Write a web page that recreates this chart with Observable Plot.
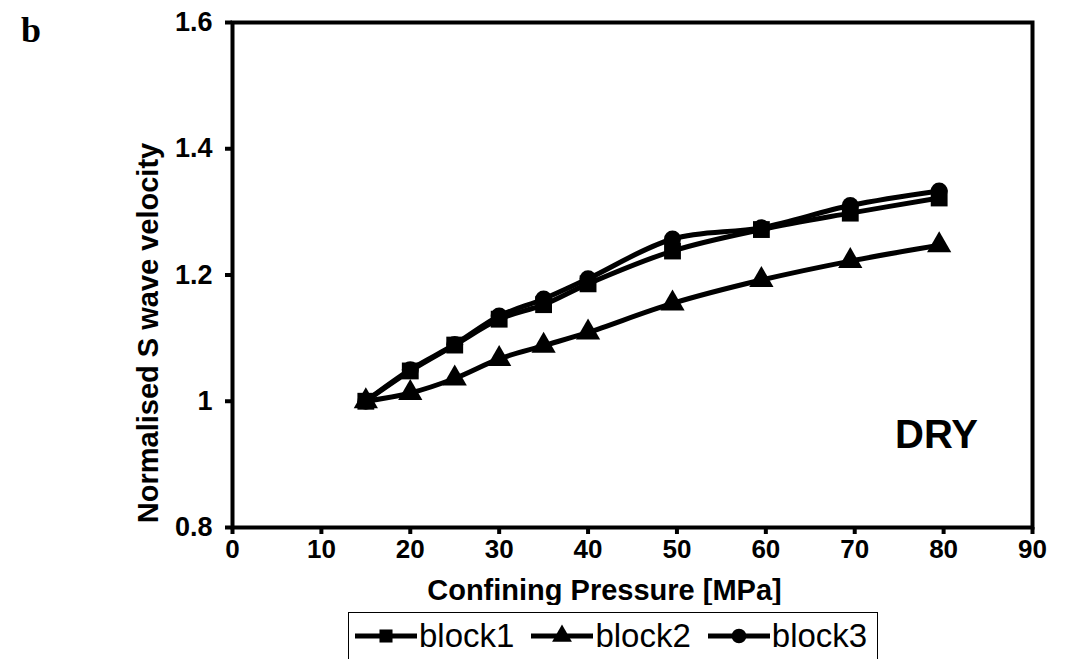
<!DOCTYPE html>
<html><head><meta charset="utf-8">
<script src="https://cdn.jsdelivr.net/npm/d3@7"></script>
<script src="https://cdn.jsdelivr.net/npm/@observablehq/plot@0.6"></script>
<style>
body{margin:0;background:#fff;}
#wrap{position:relative;width:1086px;height:659px;overflow:hidden;background:#fff;font-family:"Liberation Sans",Arial,sans-serif;}
#panel{position:absolute;left:21px;top:12px;font-family:"Liberation Serif","Times New Roman",serif;font-weight:bold;font-size:36px;line-height:36px;}
#legend{position:absolute;left:348px;top:612px;width:530px;height:70px;border:1.5px solid #000;box-sizing:border-box;display:flex;align-items:flex-start;padding-top:4px;padding-left:4px;gap:15px;font-size:33px;line-height:38px;}
#legend .item{display:flex;align-items:center;gap:0px;}
</style></head><body><div id="wrap"><div id="panel">b</div></div>
<script>
const pressure = [15, 20, 25, 30, 35, 40, 49.5, 59.5, 69.5, 79.5];
const block1 = [1.000, 1.048, 1.089, 1.130, 1.153, 1.186, 1.238, 1.272, 1.298, 1.322];
const block2 = [1.000, 1.013, 1.036, 1.067, 1.088, 1.109, 1.155, 1.192, 1.222, 1.247];
const block3 = [1.000, 1.050, 1.090, 1.135, 1.162, 1.194, 1.257, 1.275, 1.310, 1.333];
const seriesNames = ["block1", "block2", "block3"];
const seriesSymbols = ["square", "triangle", "circle"];
const xTicks = [0, 10, 20, 30, 40, 50, 60, 70, 80, 90];
const yTicks = [0.8, 1, 1.2, 1.4, 1.6];

const values = [block1, block2, block3];
const rows = [];
seriesNames.forEach((s, i) => values[i].forEach((v, j) => rows.push({series: s, x: pressure[j], y: v})));

const chart = Plot.plot({
  width: 1086, height: 605,
  marginLeft: 232, marginRight: 54, marginTop: 22, marginBottom: 78,
  style: {fontFamily: "'Liberation Sans', Arial, sans-serif", fontWeight: "bold", color: "#000", background: "transparent"},
  x: {domain: [0, 90]},
  y: {domain: [0.8, 1.6]},
  symbol: {domain: seriesNames, range: seriesSymbols},
  marks: [
    Plot.axisX({ticks: xTicks, tickSize: 7, tickPadding: 5, strokeWidth: 4, label: null, fontSize: 26, fontWeight: "bold"}),
    Plot.axisY({ticks: yTicks, tickSize: 7, tickPadding: 13, strokeWidth: 4, label: null, tickFormat: d => String(d), fontSize: 27, fontWeight: "bold"}),
    Plot.text(["Normalised S wave velocity"], {frameAnchor: "left", textAnchor: "middle", lineAnchor: "middle", dx: -84, dy: 58, rotate: -90, fontSize: 29, fontWeight: "bold"}),
    Plot.text(["Confining Pressure [MPa]"], {frameAnchor: "bottom", textAnchor: "middle", lineAnchor: "middle", dx: -28, dy: 63, fontSize: 29, fontWeight: "bold"}),
    Plot.frame({stroke: "#000", strokeWidth: 4}),
    Plot.line(rows, {x: "x", y: "y", z: "series", curve: "catmull-rom", stroke: "#000", strokeWidth: 5}),
    Plot.dot(rows.filter(d => d.series === "block1"), {x: "x", y: "y", symbol: "series", fill: "#000", stroke: "none", r: 9.5}),
    Plot.dot(rows.filter(d => d.series === "block2"), {x: "x", y: "y", symbol: "series", fill: "#000", stroke: "none", r: 9}),
    Plot.dot(rows.filter(d => d.series === "block3"), {x: "x", y: "y", symbol: "series", fill: "#000", stroke: "none", r: 8.5}),
    Plot.text(["DRY"], {x: 79.2, y: 0.946, fontSize: 40, fontWeight: "bold"})
  ]
});
const wrap = document.getElementById("wrap");
wrap.appendChild(chart);

const legend = document.createElement("div");
legend.id = "legend";
seriesNames.forEach((s, i) => {
  const item = document.createElement("div");
  item.className = "item";
  const sym = d3.symbol().type({square: d3.symbolSquare, triangle: d3.symbolTriangle, circle: d3.symbolCircle}[seriesSymbols[i]]).size(170)();
  item.innerHTML = `<svg width="66" height="38"><line x1="2" x2="64" y1="19" y2="19" stroke="#000" stroke-width="5"/><path d="${sym}" transform="translate(33,19)" fill="#000"/></svg><span>${s}</span>`;
  legend.appendChild(item);
});
wrap.appendChild(legend);
</script></body></html>
